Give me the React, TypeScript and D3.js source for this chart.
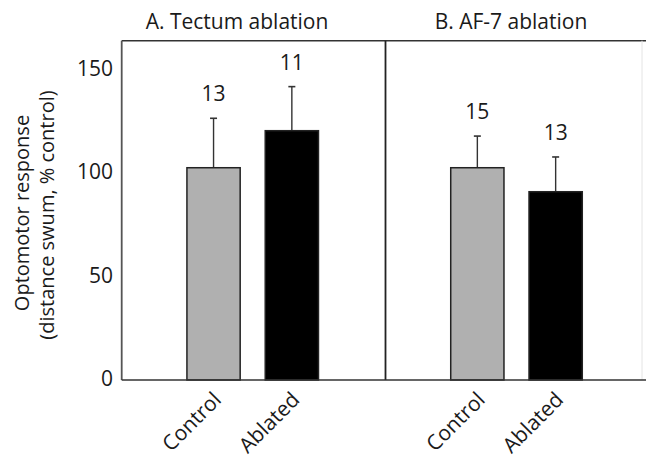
import React from "react";
import * as d3 from "d3";

const panels = ["A. Tectum ablation", "B. AF-7 ablation"];
const categories = ["Control", "Ablated"];
const meansA = [102.6, 120.5];
const errsA = [23.9, 21.3];
const nA = [13, 11];
const meansB = [102.6, 91.0];
const errsB = [15.3, 16.8];
const nB = [15, 13];
const yTicks = [0, 50, 100, 150];
const barColors = ["#b0b0b0", "#000000"];

const W = 646;
const H = 458;
const FONT = "'Open Sans', 'Noto Sans', sans-serif";
const FS = 21;

export default function App() {
  const left = 121.7;
  const mid = 385.5;
  const right = 644;
  const top = 40.7;
  const bottom = 380;

  const y = d3.scaleLinear().domain([0, 164]).range([bottom, top]);

  const panelData = [
    { title: panels[0], x0: left, x1: mid, means: meansA, errs: errsA, ns: nA, titleX: 237 },
    { title: panels[1], x0: mid, x1: right, means: meansB, errs: errsB, ns: nB, titleX: 511 },
  ];

  return (
    <svg
      width={W}
      height={H}
      style={{ position: "absolute", left: 0, top: 0, background: "#fff" }}
      fontFamily={FONT}
    >
      <rect x={0} y={0} width={W} height={H} fill="#fff" />
      {/* frame */}
      <line x1={left} x2={right + 2} y1={top} y2={top} stroke="#333" strokeWidth={1.6} />
      <line x1={left} x2={left} y1={top} y2={bottom} stroke="#555" strokeWidth={1.8} />
      <line x1={mid} x2={mid} y1={top} y2={bottom} stroke="#222" strokeWidth={1.8} />
      <line x1={right - 2} x2={right - 2} y1={top} y2={bottom} stroke="#e4e4e4" strokeWidth={1} />
      {/* y ticks */}
      {yTicks.map((t) => (
        <text
          key={t}
          x={113}
          y={y(t) - 2}
          textAnchor="end"
          dominantBaseline="central"
          fontSize={FS}
          fill="#1a1a1a"
        >
          {t}
        </text>
      ))}
      {/* y label */}
      <g transform={`translate(21, 213) rotate(-90)`}>
        <text textAnchor="middle" dominantBaseline="central" fontSize={20} fill="#1a1a1a">
          Optomotor response
        </text>
      </g>
      <g transform={`translate(46, 215) rotate(-90)`}>
        <text textAnchor="middle" dominantBaseline="central" fontSize={20} fill="#1a1a1a">
          (distance swum, % control)
        </text>
      </g>
      {panelData.map((p, pi) => {
        const x = d3
          .scaleBand<string>()
          .domain(categories)
          .range([p.x0, p.x0 + 262])
          .paddingInner(0.32)
          .paddingOuter(0.833);
        return (
          <g key={pi}>
            <text x={p.titleX} y={21} textAnchor="middle" dominantBaseline="central" fontSize={FS} fill="#1a1a1a">
              {p.title}
            </text>
            {categories.map((c, i) => {
              const bx = x(c) as number;
              const bw = x.bandwidth();
              const cx = bx + bw / 2;
              const yTop = y(p.means[i]);
              const yErr = y(p.means[i] + p.errs[i]);
              return (
                <g key={c}>
                  <line x1={cx} x2={cx} y1={yTop} y2={yErr} stroke="#333" strokeWidth={1.4} />
                  <line x1={cx - 3.5} x2={cx + 3.5} y1={yErr} y2={yErr} stroke="#333" strokeWidth={1.6} />
                  <rect
                    x={bx}
                    y={yTop}
                    width={bw}
                    height={bottom - yTop}
                    fill={barColors[i]}
                    stroke="#222"
                    strokeWidth={1.5}
                  />
                  <text x={cx} y={yErr - 25} textAnchor="middle" dominantBaseline="central" fontSize={FS} fill="#1a1a1a">
                    {p.ns[i]}
                  </text>
                  <text
                    transform={`translate(${cx + 9}, ${bottom + 21}) rotate(-45)`}
                    textAnchor="end"
                    fontSize={FS}
                    fill="#1a1a1a"
                  >
                    {c}
                  </text>
                </g>
              );
            })}
          </g>
        );
      })}
      <line x1={left} x2={W} y1={bottom} y2={bottom} stroke="#333" strokeWidth={1.6} />
    </svg>
  );
}
